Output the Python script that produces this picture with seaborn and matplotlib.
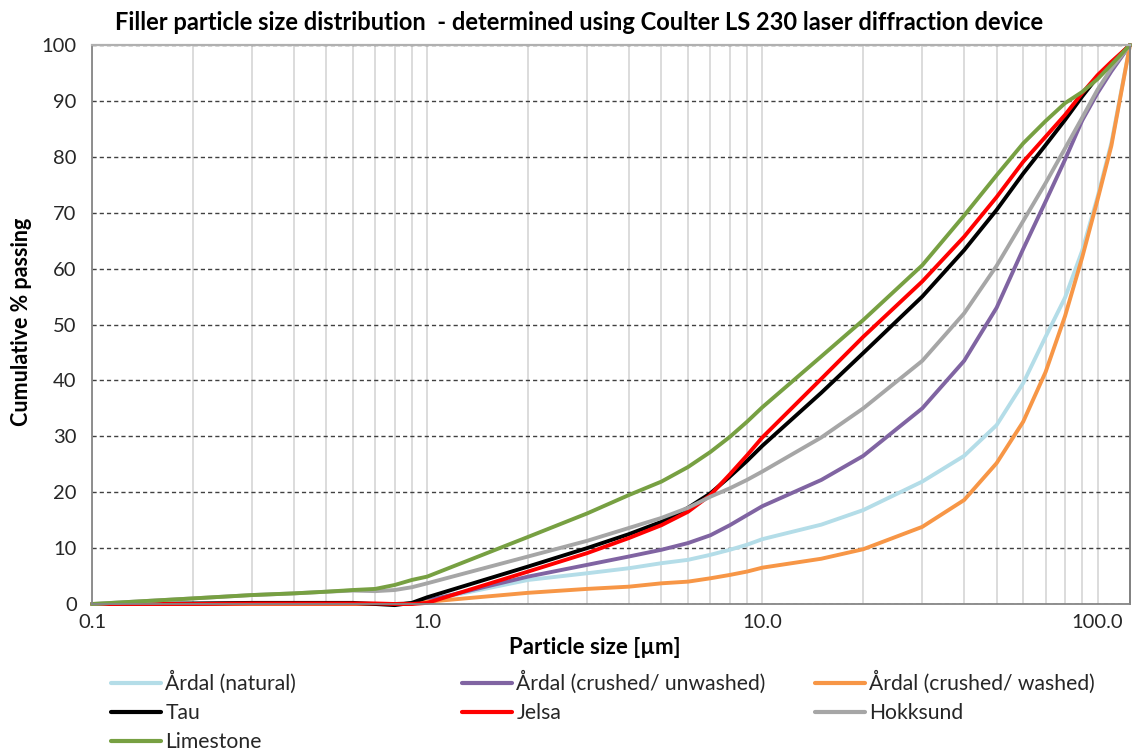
import numpy as np
import pandas as pd
import matplotlib
matplotlib.use("Agg")
import matplotlib.pyplot as plt
from matplotlib.ticker import LogLocator, NullFormatter, FixedLocator
import seaborn as sns

# ---------------- data ----------------
sizes = [0.1, 0.2, 0.3, 0.4, 0.5, 0.6, 0.7, 0.8, 0.9, 1, 2, 3, 4, 5, 6, 7, 8, 9,
         10, 15, 20, 30, 40, 50, 60, 70, 80, 90, 100, 110, 125]

ardal_natural = [0, 0, 0, 0, 0, 0, 0, 0, 0.1, 0.6, 4.3, 5.5, 6.4, 7.3, 7.9, 8.8, 9.7, 10.6,
                 11.6, 14.2, 16.8, 21.9, 26.5, 32.0, 39.5, 47.8, 54.8, 63.2, 72.8, 82.5, 100]
ardal_unwashed = [0, 0, 0, 0, 0, 0, 0, 0, 0.1, 0.6, 4.9, 7.0, 8.5, 9.7, 10.9, 12.3, 14.1, 15.9,
                  17.5, 22.2, 26.5, 35.0, 43.5, 53.0, 63.5, 72.0, 79.5, 86.5, 91.4, 95.3, 100]
ardal_washed = [0, 0, 0, 0, 0, 0, 0, 0, 0.1, 0.4, 2.0, 2.7, 3.1, 3.7, 4.0, 4.6, 5.2, 5.8,
                6.5, 8.1, 9.8, 13.8, 18.6, 25.2, 32.6, 41.5, 51.5, 62.0, 72.3, 82.0, 100]
tau = [0, 0.1, 0.2, 0.2, 0.2, 0.2, 0.0, -0.2, 0.2, 1.2, 6.7, 10.0, 12.5, 14.7, 17.2, 19.8, 22.8, 25.6,
       28.3, 37.8, 44.9, 55.0, 63.3, 70.5, 77.0, 82.1, 86.6, 90.8, 94.3, 96.8, 100]
jelsa = [0, 0, 0.1, 0.1, 0.1, 0.1, 0.1, 0, 0, 0.2, 5.8, 9.1, 11.8, 14.1, 16.5, 19.5, 23.2, 26.6,
         29.8, 40.3, 47.8, 57.7, 65.7, 72.8, 79.1, 83.6, 87.5, 91.4, 94.6, 97.0, 100]
hokksund = [0, 1.0, 1.6, 1.9, 2.2, 2.4, 2.3, 2.5, 3.0, 3.7, 8.5, 11.3, 13.6, 15.4, 17.2, 19.2, 20.7, 22.2,
            23.7, 29.8, 35.0, 43.5, 52.0, 60.5, 68.5, 75.3, 81.5, 87.0, 92.0, 95.8, 100]
limestone = [0, 1.0, 1.6, 1.9, 2.2, 2.5, 2.7, 3.4, 4.3, 4.9, 12.0, 16.2, 19.5, 21.9, 24.5, 27.2, 29.9, 32.6,
             35.2, 44.3, 50.8, 60.6, 69.5, 76.7, 82.4, 86.4, 89.6, 91.6, 93.9, 96.5, 100]

series_names = ["Årdal (natural)", "Årdal (crushed/ unwashed)", "Årdal (crushed/ washed)",
                "Tau", "Jelsa", "Hokksund", "Limestone"]
series_values = [ardal_natural, ardal_unwashed, ardal_washed, tau, jelsa, hokksund, limestone]
series_colors = ["#B4DDE8", "#8064A2", "#F79646", "#000000", "#FF0000", "#A6A6A6", "#77A042"]

x_tick_values = [0.1, 1, 10, 100]
x_tick_labels = ["0.1", "1.0", "10.0", "100.0"]
y_ticks = list(range(0, 101, 10))

title = "Filler particle size distribution  - determined using Coulter LS 230 laser diffraction device"
x_label = "Particle size [µm]"
y_label = "Cumulative % passing"

# ---------------- build table ----------------
rows = []
for name, vals in zip(series_names, series_values):
    for s, v in zip(sizes, vals):
        rows.append({"size": s, "passing": v, "series": name})
df = pd.DataFrame(rows)

sns.set_style("white")
plt.rcParams["font.family"] = ["Lato", "DejaVu Sans"]

W, H = 1132, 751
fig = plt.figure(figsize=(W / 100, H / 100), dpi=100)
L, R, T, B = 92, 1130, 45, 604
ax = fig.add_axes([L / W, 1 - B / H, (R - L) / W, (B - T) / H])

palette = dict(zip(series_names, series_colors))
sns.lineplot(data=df, x="size", y="passing", hue="series", hue_order=series_names,
             palette=palette, estimator=None, sort=True, linewidth=2.8,
             legend=False, ax=ax)
for ln in ax.get_lines():
    ln.set_clip_on(False)
    ln.set_solid_capstyle("round")
    ln.set_solid_joinstyle("round")

ax.set_xscale("log")
ax.set_xlim(0.1, 125)
ax.set_ylim(0, 100)

ax.xaxis.set_major_locator(FixedLocator(x_tick_values))
ax.set_xticklabels(x_tick_labels)
ax.xaxis.set_minor_locator(LogLocator(base=10, subs=np.arange(2, 10), numticks=100))
ax.xaxis.set_minor_formatter(NullFormatter())
ax.set_yticks(y_ticks)

ax.set_axisbelow(True)
ax.grid(True, which="both", axis="x", color="#D9D9D9", lw=1.3, ls="-")
ax.grid(True, which="major", axis="y", color="#404040", lw=1.0, ls=(0, (3, 2.2)))

for s in ["left", "bottom"]:
    ax.spines[s].set_color("#868686")
    ax.spines[s].set_linewidth(1.3)
ax.spines["top"].set_color("#B0B0B0")
ax.spines["top"].set_linewidth(1.6)
ax.spines["right"].set_color("#808080")
ax.spines["right"].set_linewidth(1.4)
for s in ax.spines.values():
    s.set_visible(True)

ax.tick_params(axis="both", which="major", direction="out", length=4, width=1.1,
               color="#868686", labelsize=14.5, labelcolor="#262626")
ax.tick_params(axis="x", which="major", pad=3)
ax.tick_params(axis="y", which="major", pad=7)
ax.tick_params(axis="x", which="minor", length=0)

ax.set_xlabel(x_label, fontsize=16, fontweight="bold", color="#000000", va="center")
ax.xaxis.set_label_coords((595 - L) / (R - L), (B - 647) / (B - T))
ax.set_ylabel(y_label, fontsize=15.5, fontweight="bold", color="#000000", va="center")
ax.yaxis.set_label_coords((22 - L) / (R - L), (B - 322) / (B - T))

fig.text(579 / W, 1 - 23 / H, title, ha="center", va="center",
         fontsize=17, fontweight="bold", color="#000000")

# ---------------- legend: three columns ----------------
handles = {name: plt.Line2D([], [], color=c, lw=3.0) for name, c in zip(series_names, series_colors)}
columns = [
    (111, [series_names[0], series_names[3], series_names[6]]),
    (462, [series_names[1], series_names[4]]),
    (815, [series_names[2], series_names[5]]),
]
for xpix, names in columns:
    leg = fig.legend([handles[n] for n in names], names, loc="upper left",
                     bbox_to_anchor=(xpix / W, 1 - 671 / H), frameon=False,
                     fontsize=15.2, handlelength=2.35, handletextpad=0.22,
                     labelspacing=0.42, borderpad=0, borderaxespad=0)
    for t in leg.get_texts():
        t.set_color("#262626")

fig.savefig("out.png", dpi=100)
